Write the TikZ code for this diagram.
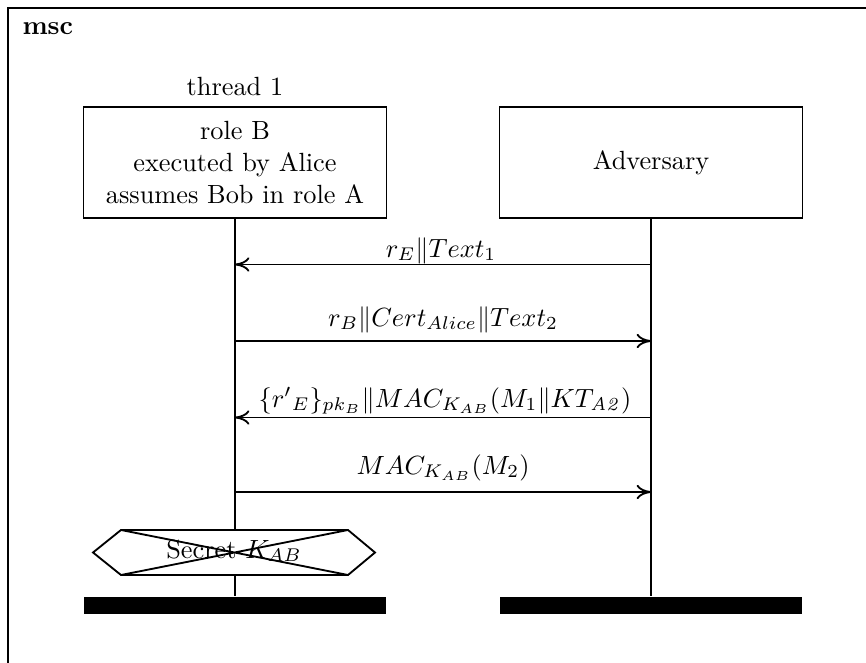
\documentclass[tikz,border=0pt]{standalone}
\usetikzlibrary{arrows.meta}
\begin{document}
\begin{tikzpicture}[x=0.38pt,y=-0.38pt,
  inst/.style={draw,line width=0.7pt,minimum width=115.1pt,minimum height=42.2pt,inner sep=0pt,align=center},
  bar/.style={fill=black,draw=none,minimum width=115.1pt,minimum height=6.5pt,inner sep=0pt},
  lifeline/.style={line width=0.7pt},
  msg/.style={line width=0.7pt,-{To[length=5.5pt,width=5.5pt]}},
  lbl/.style={anchor=base,inner sep=0pt}]
\useasboundingbox (0,0) rectangle (866,662);
% frame
\draw[line width=0.9pt] (8,700) -- (8,8) -- (900,8);
\node[anchor=base west,inner sep=0pt,font=\bfseries] (msc) at (22,35) {msc};
% instances
\node[anchor=base,inner sep=0pt] (thr) at (235,96) {thread 1};
\node[inst] (boxA) at (235,162.5) {role B\\executed by Alice\\assumes Bob in role A};
\node[inst] (boxB) at (651,162.5) {Adversary};
\node[bar] (barA) at (235,605.5) {};
\node[bar] (barB) at (651,605.5) {};
% condition hexagon
\coordinate (h1) at (93,552.5);
\coordinate (h2) at (121,530);
\coordinate (h3) at (348,530);
\coordinate (h4) at (375,552.5);
\coordinate (h5) at (348,575);
\coordinate (h6) at (121,575);
\node[inner sep=0pt,anchor=base] (hex) at (234,558) {Secret $K_{AB}$};
\draw[line width=0.7pt] (h1) -- (h2) -- (h3) -- (h4) -- (h5) -- (h6) -- cycle;
\draw[line width=0.7pt] (h2) -- (h5) (h6) -- (h3);
\coordinate (hexN) at (235,530);
\coordinate (hexS) at (235,575);
% lifelines
\draw[lifeline] (boxA.south) -- (hexN);
\draw[lifeline] (hexS) -- (barA.north);
\draw[lifeline] (boxB.south) -- (barB.north);
% messages
\coordinate (a1) at (235,264.5); \coordinate (b1) at (651,264.5);
\coordinate (a2) at (235,341);   \coordinate (b2) at (651,341);
\coordinate (a3) at (235,417.5); \coordinate (b3) at (651,417.5);
\coordinate (a4) at (235,492);   \coordinate (b4) at (651,492);
\draw[msg] (b1) -- (a1);
\draw[msg] (a2) -- (b2);
\draw[msg] (b3) -- (a3);
\draw[msg] (a4) -- (b4);
\node[lbl] (l1) at (441,257) {$r_E\|Text_1$};
\node[lbl] (l2) at (443,326) {$r_B\|Cert_{Alice}\|Text_2$};
\node[lbl] (l3) at (445,407) {$\{{r'}_E\}_{pk_B}\|MAC_{K_{AB}}(M_1\|KT_{\mathit{A2}})$};
\node[lbl] (l4) at (443,474) {$MAC_{K_{AB}}(M_2)$};
\end{tikzpicture}
\end{document}
